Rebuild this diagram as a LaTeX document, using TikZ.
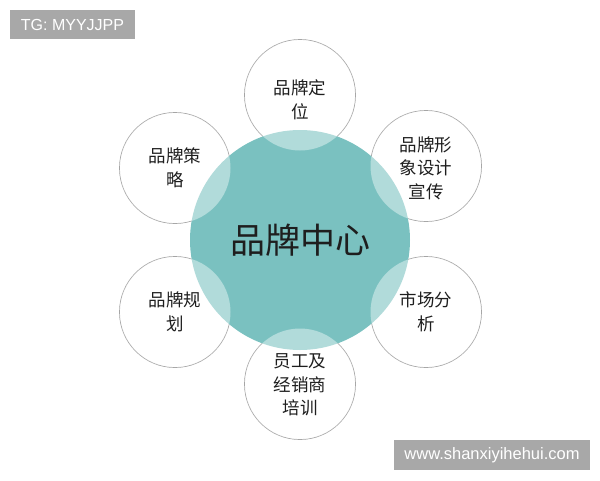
\documentclass[tikz,border=0pt]{standalone}
\usepackage{fontspec}
\setmainfont{Liberation Sans}
\newfontfamily\cjk{Noto Sans CJK SC}
\definecolor{tealc}{RGB}{122,193,192}
\definecolor{ringc}{RGB}{150,150,150}
\definecolor{tagc}{RGB}{168,168,168}
\definecolor{txtc}{RGB}{30,30,30}
\begin{document}
\begin{tikzpicture}[x=1pt,y=-1pt,
  ring/.style={circle, minimum size=111pt, inner sep=0pt, draw=ringc, line width=0.7pt},
  hub/.style={circle, minimum size=220pt, inner sep=0pt, fill=tealc},
  sattext/.style={align=center, text=txtc, font=\cjk\fontsize{17.5}{23.5}\selectfont},
  tag/.style={fill=tagc, text=white, inner sep=0pt, font=\fontsize{16}{18}\selectfont}
]
\useasboundingbox (0,0) rectangle (600,480);
% satellite outlines
\node[ring] (s1) at (300,95) {};
\node[ring] (s2) at (426,166) {};
\node[ring] (s3) at (426,312) {};
\node[ring] (s4) at (300,384) {};
\node[ring] (s5) at (175,312) {};
\node[ring] (s6) at (175,168) {};
% central circle
\node[hub] (hub) at (300,240) {};
% translucent overlap fills
\foreach \s in {s1,s2,s3,s4,s5,s6}
  \fill[white, opacity=0.42] (\s.center) circle (55.5pt);
% texts
\node[text=txtc, font=\cjk\fontsize{35}{40}\selectfont] at (hub.center) {品牌中心};
\node[sattext] at ([yshift=-5pt]s1.center) {品牌定\\位};
\node[sattext] at ([yshift=-2pt]s2.center) {品牌形\\象设计\\宣传};
\node[sattext] at ([yshift=0pt]s3.center) {市场分\\析};
\node[sattext] at ([yshift=-1pt]s4.center) {员工及\\经销商\\培训};
\node[sattext] at ([yshift=0pt]s5.center) {品牌规\\划};
\node[sattext] at ([yshift=0pt]s6.center) {品牌策\\略};
% watermark tags
\node[tag, minimum width=125pt, minimum height=29pt] (tg) at (72.5,24.5) {TG: MYYJJPP};
\node[tag, minimum width=196pt, minimum height=30pt, font=\fontsize{16.5}{18}\selectfont] (url) at (492,455) {www.shanxiyihehui.com};
\end{tikzpicture}
\end{document}
